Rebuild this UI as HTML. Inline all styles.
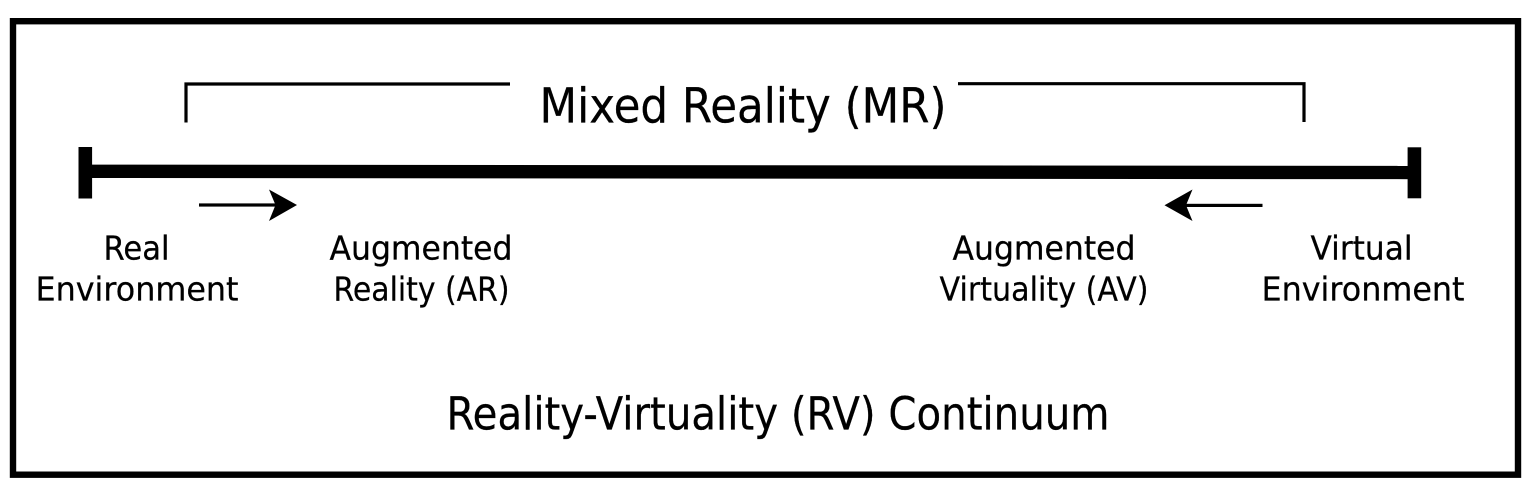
<!DOCTYPE html>
<html lang="en">
<head>
<meta charset="utf-8">
<title>Reality-Virtuality Continuum</title>
<style>
html,body{margin:0;padding:0;background:#fff;width:1532px;height:488px;overflow:hidden}
svg{display:block}
text{font-family:"DejaVu Sans","Liberation Sans",sans-serif;fill:#000;stroke:#000;stroke-width:.25px}
.s{font-size:33px}
.l{font-size:48px}
.m{font-size:45px}
</style>
</head>
<body>
<svg width="1532" height="488" viewBox="0 0 1532 488">
<rect x="13" y="21.2" width="1505" height="453.5" fill="none" stroke="#000" stroke-width="6.4"/>
<path d="M186 122.5V84H510" fill="none" stroke="#000" stroke-width="3.2"/>
<path d="M958 83.7H1304V122" fill="none" stroke="#000" stroke-width="3.2"/>
<polygon points="85,164.6 1414,165.9 1414,179.2 85,178" fill="#000"/>
<rect x="78.5" y="147" width="13.6" height="51.5" fill="#000"/>
<rect x="1407.6" y="147.3" width="13.6" height="51" fill="#000"/>
<rect x="199" y="203.4" width="78" height="3.2" fill="#000"/>
<polygon points="297,205 269,189.5 275.5,205 269,221" fill="#000"/>
<rect x="1185" y="203.8" width="77.5" height="3.2" fill="#000"/>
<polygon points="1164.5,205.3 1192.5,189.5 1186,205.3 1192.5,221" fill="#000"/>
<text class="l" x="539.5" y="122.5" textLength="407" lengthAdjust="spacingAndGlyphs">Mixed Reality (MR)</text>
<text class="s" x="103.5" y="259.5" textLength="66" lengthAdjust="spacingAndGlyphs">Real</text>
<text class="s" x="35.5" y="300.5" textLength="203" lengthAdjust="spacingAndGlyphs">Environment</text>
<text class="s" x="329.5" y="259.5" textLength="183" lengthAdjust="spacingAndGlyphs">Augmented</text>
<text class="s" x="333.5" y="300.5" textLength="176" lengthAdjust="spacingAndGlyphs">Reality (AR)</text>
<text class="s" x="952.5" y="259.5" textLength="183" lengthAdjust="spacingAndGlyphs">Augmented</text>
<text class="s" x="939.5" y="300.5" textLength="209" lengthAdjust="spacingAndGlyphs">Virtuality (AV)</text>
<text class="s" x="1310.5" y="259.5" textLength="102" lengthAdjust="spacingAndGlyphs">Virtual</text>
<text class="s" x="1261.5" y="300.5" textLength="203" lengthAdjust="spacingAndGlyphs">Environment</text>
<text class="m" x="446.5" y="429.5" textLength="663" lengthAdjust="spacingAndGlyphs">Reality-Virtuality (RV) Continuum</text>
</svg>
</body>
</html>
